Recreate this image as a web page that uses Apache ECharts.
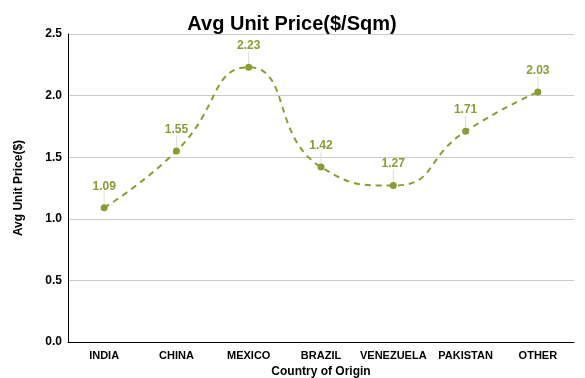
<!DOCTYPE html>
<html><head><meta charset="utf-8">
<script src="https://cdn.jsdelivr.net/npm/echarts@6/dist/echarts.min.js"></script>
<style>html,body{margin:0;padding:0;background:#fff}#c{width:585px;height:378px}</style>
</head><body><div id="c"></div>
<script>
const categories = ['INDIA','CHINA','MEXICO','BRAZIL','VENEZUELA','PAKISTAN','OTHER'];
const prices = [1.09, 1.55, 2.23, 1.42, 1.27, 1.71, 2.03];
const yTicks = {min: 0, max: 2.5, interval: 0.5};
const color = '#8c9c2f';
const font = '"Liberation Sans", Arial, sans-serif';
const chart = echarts.init(document.getElementById('c'));
chart.setOption({
  animation: false,
  title: {text: 'Avg Unit Price($/Sqm)', left: 287, textAlign: 'center', top: 9,
    textStyle: {fontFamily: font, fontWeight: 'bold', fontSize: 20, color: '#000'}},
  grid: {left: 68, right: 11, top: 34, bottom: 36, containLabel: false, outerBoundsMode: 'none'},
  xAxis: {type: 'category', data: categories, boundaryGap: true,
    name: 'Country of Origin', nameLocation: 'middle', nameGap: 19,
    nameTextStyle: {fontFamily: font, fontWeight: 'bold', fontSize: 12, color: '#000'},
    axisLine: {lineStyle: {color: '#000', width: 1}}, axisTick: {show: false},
    axisLabel: {fontFamily: font, fontWeight: 'bold', fontSize: 11, color: '#000', margin: 8, interval: 0}},
  yAxis: {type: 'value', min: yTicks.min, max: yTicks.max, interval: yTicks.interval,
    name: 'Avg Unit Price($)', nameLocation: 'middle', nameGap: 43, nameRotate: 90,
    nameTextStyle: {fontFamily: font, fontWeight: 'bold', fontSize: 12, color: '#000'},
    axisLine: {show: true, lineStyle: {color: '#000', width: 1}}, axisTick: {show: false},
    splitLine: {lineStyle: {color: '#cccccc'}},
    axisLabel: {fontFamily: font, fontWeight: 'bold', fontSize: 12, color: '#000', margin: 6,
      formatter: v => v.toFixed(1)}},
  series: [{type: 'line', data: prices, smooth: 0.55, symbol: 'circle', symbolSize: 7,
    itemStyle: {color: color}, lineStyle: {color: color, width: 2, type: [6, 5]},
    label: {show: true, position: 'top', distance: 4, fontFamily: font, fontWeight: 'bold', fontSize: 12, color: color,
      formatter: p => p.value.toFixed(2)},
    labelLayout: {dy: -8},
    labelLine: {show: true, lineStyle: {color: '#dddddd', width: 1}}
  }]
});
</script></body></html>
